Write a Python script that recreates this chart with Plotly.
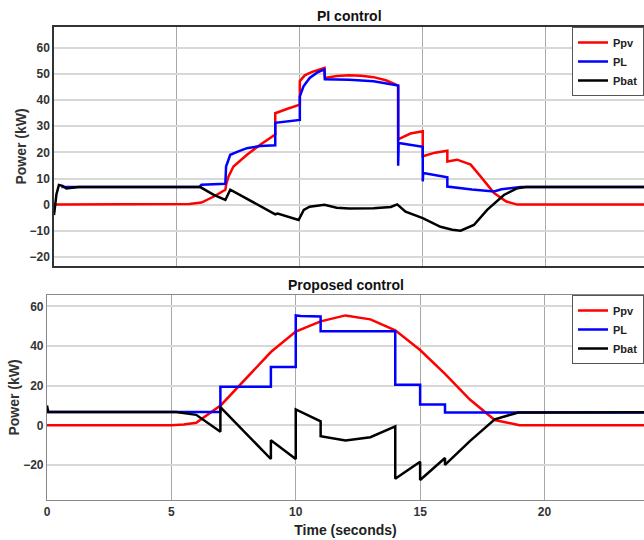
import plotly.graph_objects as go

# ---------------- PI control (top) ----------------
t_ppv_pi = [0, 5.0, 5.5, 6.0, 6.5, 6.97, 7.0, 7.1, 7.3, 7.85, 8.4, 9.0, 9.0, 9.5, 10.0, 10.0, 10.2, 10.5,
            11.0, 11.02, 11.5, 12.0, 12.5, 13.0, 13.5, 14.0, 14.0, 14.5, 15.0, 15.0, 15.5, 16.0, 16.0, 16.4,
            16.95, 17.35, 17.9, 18.4, 18.85, 24]
ppv_pi = [0, 0, 0.2, 0.8, 3.1, 5.7, 7.5, 10.8, 14.6, 19.1, 23.0, 26.8, 35.0, 36.7, 38.3, 47.3, 49.5, 50.8,
          52.3, 48.5, 49.2, 49.5, 49.3, 48.8, 47.6, 45.6, 25.0, 27.2, 28.1, 18.5, 19.9, 20.6, 16.5, 17.2,
          15.3, 10.8, 4.4, 1.2, 0, 0]

t_pl_pi = [0.3, 5.9, 6.0, 6.97, 7.0, 7.17, 7.5, 7.85, 8.39, 9.0, 9.0, 10.0, 10.0, 10.15, 10.4, 10.7, 11.0,
           11.02, 12.0, 13.0, 14.0, 14.0, 14.02, 15.0, 15.0, 15.02, 16.0, 16.0, 17.0, 17.9, 18.2, 18.98, 24]
pl_pi = [6.7, 6.7, 7.6, 8.0, 14.6, 19.1, 20.4, 21.6, 22.4, 22.7, 31.3, 32.4, 41.5, 45.3, 48.5, 50.5, 51.8,
         48.0, 47.8, 47.2, 45.6, 14.9, 23.6, 22.1, 8.9, 12.1, 10.5, 6.9, 5.8, 5.0, 5.9, 6.7, 6.7]

t_pbat_pi = [0, 0.1, 0.2, 0.35, 0.5, 0.8, 1.0, 5.95, 6.5, 6.97, 7.17, 9.0, 9.1, 9.95, 10.05, 10.16, 10.4,
             10.7, 11.0, 11.5, 12.0, 13.0, 13.7, 13.96, 14.3, 15.0, 15.72, 16.2, 16.54, 17.08, 17.62, 18.3,
             18.85, 19.2, 24]
pbat_pi = [-4, 4, 7.5, 7.2, 6.2, 6.4, 6.7, 6.7, 3.7, 1.8, 5.7, -3.7, -3.4, -5.9, -4.0, -2.0, -0.8,
           -0.4, -0.1, -1.2, -1.5, -1.4, -0.9, 0.1, -2.7, -5.2, -8.5, -9.6, -10.0, -7.8, -2.0, 3.7,
           6.3, 6.7, 6.7]

# ---------------- Proposed control (bottom) ----------------
t_ppv_pr = [0, 5, 5.5, 6, 7, 8, 9, 10, 11, 12, 13, 14, 15, 16, 17, 18, 19, 24]
ppv_pr = [0, 0, 0.4, 1.3, 10.3, 23.5, 37.0, 47.3, 52.5, 55.5, 53.5, 48.0, 38.0, 26.0, 13.0, 2.7, 0, 0]

t_pl_pr = [0, 6.97, 6.97, 9, 9, 10, 10, 10.2, 11, 11, 14, 14, 15, 15, 16, 16, 24]
pl_pr = [6.7, 6.7, 19.5, 19.5, 29.5, 29.5, 55.5, 55.2, 55.0, 47.5, 47.5, 20.5, 20.5, 10.5, 10.5, 6.5, 6.5]

t_pbat_pr = [0, 0.05, 5.2, 6, 6.97, 6.97, 9, 9, 10, 10, 11, 11, 12, 13, 14, 14, 15, 15, 16, 16, 17, 18,
             18.95, 24]
pbat_pr = [10, 6.7, 6.7, 5.3, -3.2, 9.2, -17, -7.5, -17, 8, 2, -5.5, -7.6, -6, -0.5, -27, -18.4, -27.6,
           -16.5, -20, -8, 3, 6.5, 6.6]

x_ticks = [0, 5, 10, 15, 20]
y_ticks_pi = [-20, -10, 0, 10, 20, 30, 40, 50, 60]
y_ticks_pr = [-20, 0, 20, 40, 60]

names = ["Ppv", "PL", "Pbat"]
colors = ["#ff0000", "#0000ff", "#000000"]

FONT = "Liberation Sans, Arial, sans-serif"

fig = go.Figure()
series_pi = [(t_ppv_pi, ppv_pi), (t_pl_pi, pl_pi), (t_pbat_pi, pbat_pi)]
series_pr = [(t_ppv_pr, ppv_pr), (t_pl_pr, pl_pr), (t_pbat_pr, pbat_pr)]
for (tx, vy), n, c in zip(series_pi, names, colors):
    fig.add_trace(go.Scatter(x=tx, y=vy, mode="lines", name=n, line=dict(color=c, width=2.5),
                             xaxis="x", yaxis="y", legend="legend"))
for (tx, vy), n, c in zip(series_pr, names, colors):
    fig.add_trace(go.Scatter(x=tx, y=vy, mode="lines", name=n, line=dict(color=c, width=2.5),
                             xaxis="x2", yaxis="y2", legend="legend2"))

W, H = 644, 540
ml, mr, mt, mb = 47, 0, 27, 40
pw, ph = W - ml - mr, H - mt - mb
top_dom = [(500 - 266) / ph, 1.0]
bot_dom = [0.0, (500 - 295) / ph]
x_top_dom = [(54 - 47) / pw, 1.0]

tickfont = dict(family=FONT, size=12, color="#333333", weight="bold")
ytitlefont = dict(family=FONT, size=14, color="#333333", weight="bold")

fig.update_layout(
    width=W, height=H,
    margin=dict(l=ml, r=mr, t=mt, b=mb),
    plot_bgcolor="white", paper_bgcolor="white",
    font=dict(family=FONT, color="#222222"),
    xaxis=dict(domain=x_top_dom, anchor="y", range=[0, 24], tickvals=x_ticks, showticklabels=False,
               showgrid=True, gridcolor="#a8a8a8", gridwidth=1, zeroline=False,
               showline=True, mirror=True, linecolor="#333333", linewidth=1.5, ticks=""),
    yaxis=dict(domain=top_dom, anchor="x", range=[-23.5, 68], tickvals=y_ticks_pi,
               showgrid=True, gridcolor="#d8d8d8", gridwidth=1.5, zeroline=False,
               showline=True, linecolor="#333333", linewidth=1.5, ticks="",
               tickfont=tickfont,
               title=dict(text="Power (kW)", font=ytitlefont, standoff=0)),
    xaxis2=dict(domain=[0, 1], anchor="y2", range=[0, 24], tickvals=x_ticks,
                showgrid=True, gridcolor="#a8a8a8", gridwidth=1, zeroline=False,
                showline=True, mirror=True, linecolor="#888888", linewidth=1.2, ticks="",
                tickfont=tickfont,
                title=dict(text="Time (seconds)", font=dict(family=FONT, size=14, color="#222222", weight="bold"),
                           standoff=7)),
    yaxis2=dict(domain=bot_dom, anchor="x2", range=[-37.7, 65.8], tickvals=y_ticks_pr,
                showgrid=True, gridcolor="#d8d8d8", gridwidth=1.5, zeroline=False,
                showline=True, linecolor="#888888", linewidth=1.2, ticks="",
                tickfont=tickfont,
                title=dict(text="Power (kW)", font=ytitlefont, standoff=0)),
    legend=dict(x=1, xanchor="right", y=1, yanchor="top", bgcolor="white",
                bordercolor="#555555", borderwidth=1,
                font=dict(family=FONT, size=11, color="#222222", weight="bold"),
                itemwidth=30, tracegroupgap=0),
    legend2=dict(x=1, xanchor="right", y=bot_dom[1], yanchor="top", bgcolor="white",
                 bordercolor="#555555", borderwidth=1,
                 font=dict(family=FONT, size=11, color="#222222", weight="bold"),
                 itemwidth=30, tracegroupgap=0),
    annotations=[
        dict(text="PI control", x=0.5 * (x_top_dom[0] + 1), xref="paper", y=(H - 16 - mb) / ph, yref="paper",
             xanchor="center", yanchor="middle", showarrow=False,
             font=dict(family=FONT, size=14, color="#111111", weight="bold")),
        dict(text="Proposed control", x=0.5, xref="paper", y=(H - 285 - mb) / ph, yref="paper",
             xanchor="center", yanchor="middle", showarrow=False,
             font=dict(family=FONT, size=14, color="#111111", weight="bold")),
    ],
)

fig.write_html("out.html", config={"displayModeBar": False},
               post_script="document.body.style.margin='0px';document.body.style.overflow='hidden';")
